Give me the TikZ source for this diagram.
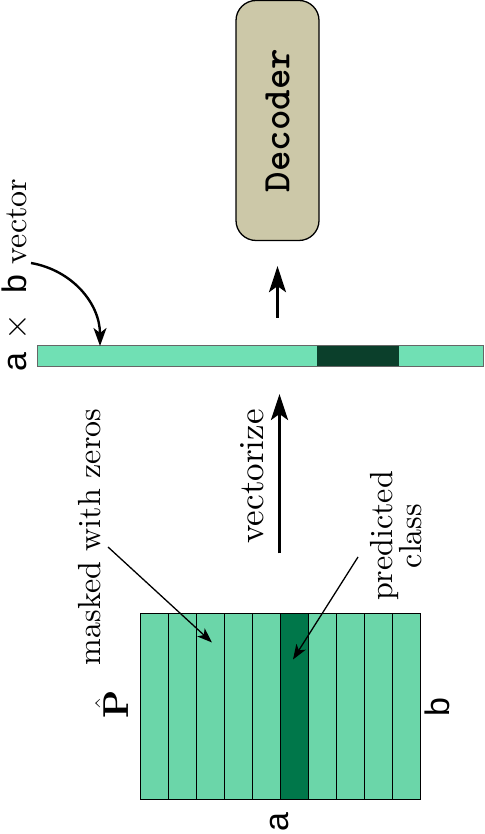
\documentclass[tikz,border=0pt]{standalone}
\usepackage{fontspec}
\setmainfont{lmroman10-regular.otf}[BoldFont=lmroman10-bold.otf, ItalicFont=lmroman10-italic.otf]
\setsansfont{Liberation Sans}
\usetikzlibrary{arrows.meta}

\definecolor{matlight}{HTML}{6BD6A9}
\definecolor{matdark}{HTML}{00774A}
\definecolor{veclight}{HTML}{70E0B4}
\definecolor{vecdark}{HTML}{0B3F2B}
\definecolor{decfill}{HTML}{CCC8A8}

\begin{document}
\begin{tikzpicture}[x=0.5pt, y=0.5pt,
    lbl/.style={rotate=90, font=\fontsize{16}{19}\selectfont},
    cell/.style={draw, line width=0.5pt, fill=matlight, minimum width=14pt,
        minimum height=93pt, inner sep=0pt},
    bigarr/.style={line width=1.5pt, -{Stealth[length=13pt,width=8.5pt,inset=3pt]}},
    curvarr/.style={line width=1.2pt, -{Stealth[length=9pt,width=6.5pt,inset=2.5pt]}},
    thinarr/.style={line width=0.65pt, -{Stealth[length=7.5pt,width=5.5pt,inset=2pt]}}]
    \useasboundingbox (0,0) rectangle (484,834);

    % decoder
    \node[rotate=90, draw, line width=0.65pt, fill=decfill, rounded corners=10pt,
        minimum width=120pt, minimum height=41.5pt,
        font=\ttfamily\bfseries\fontsize{19.5}{22}\selectfont] (dec) at (277.5,713.5) {Decoder};

    % a x b vector
    \fill[veclight] (37,467) rectangle (483,488);
    \fill[vecdark] (317,467) rectangle (399,488);
    \node[draw=black!60, line width=0.5pt, anchor=south west, minimum width=223pt,
        minimum height=10.5pt, inner sep=0pt, outer sep=0pt] (vec) at (37,467) {};

    % matrix P hat
    \foreach \i in {0,...,9}
        \node[cell] (c\i) at ({154+28*\i},127) {};
    \node[cell, fill=matdark] (c5) at (294,127) {};

    \node[lbl, anchor=base] (mask) at (100,297) {masked with zeros};
    \node[lbl, anchor=base, font=\fontsize{17.5}{21}\selectfont] (vecz) at (263,357.5) {vectorize};
    \node[lbl, align=center, font=\fontsize{16}{14.5}\selectfont] (pred) at (396.5,298) {predicted\\class};
    \node[lbl, anchor=base, inner sep=0pt] (ab) at (26,559)
        {{\sffamily\fontsize{17}{20}\selectfont a}\hspace{6pt}$\times$\hspace{10pt}{\sffamily\fontsize{17}{20}\selectfont b} vector};
    \node[lbl, font=\sffamily\fontsize{17}{20}\selectfont] (la) at (280,12) {a};
    \node[lbl, font=\sffamily\fontsize{17}{20}\selectfont] (lb) at (437,127) {b};
    \node[lbl, font=\fontsize{18}{21}\selectfont] (lp) at (112,130) {$\hat{\mathbf{P}}$};

    \draw[bigarr, shorten <=30pt, shorten >=13.5pt] (c5.north west) -- (c5.north west |- vec.south);
    \draw[bigarr, shorten <=14pt, shorten >=12.5pt] (vec.north -| dec.west) -- (dec.west);
    \draw[thinarr] ([shift={(4pt,-5pt)}]mask.base) -- ([shift={(1pt,-14.5pt)}]c2.north);
    \draw[thinarr] ([shift={(-19.25pt,-10.5pt)}]pred.center) -- ([shift={(-0.5pt,-23pt)}]c5.north);
    \draw[curvarr] ([shift={(2.5pt,6pt)}]ab.base) to[out=-10,in=90] ([xshift=31.5pt]vec.north west);
\end{tikzpicture}
\end{document}
